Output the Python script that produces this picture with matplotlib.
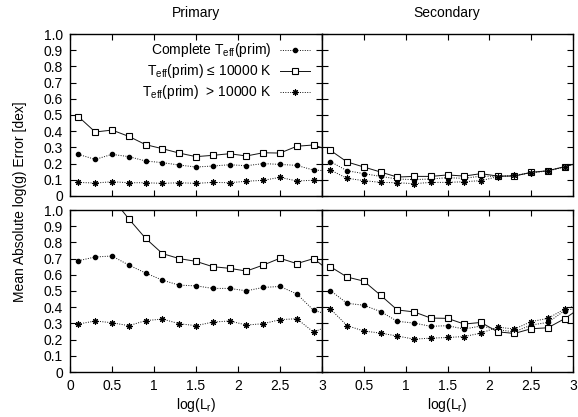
import numpy as np
import matplotlib
matplotlib.use("Agg")
import matplotlib.pyplot as plt

plt.rcParams["font.family"] = ["Liberation Sans", "DejaVu Sans"]
plt.rcParams["mathtext.fontset"] = "custom"
plt.rcParams["mathtext.rm"] = "Liberation Sans"
plt.rcParams["mathtext.it"] = "Liberation Sans:italic"
plt.rcParams["font.size"] = 10

# bin centres of log(L_r); last bin (3.1) lies past the axis and is clipped
logL = [0.1, 0.3, 0.5, 0.7, 0.9, 1.1, 1.3, 1.5, 1.7, 1.9, 2.1, 2.3, 2.5, 2.7, 2.9, 3.1]

# top row: primary mass-ratio sample, bottom row: second sample
prim_top_all  = [0.257, 0.226, 0.257, 0.243, 0.216, 0.206, 0.191, 0.179, 0.185, 0.193, 0.187, 0.200, 0.195, 0.189, 0.160, 0.155]
prim_top_cool = [0.490, 0.395, 0.407, 0.368, 0.317, 0.292, 0.265, 0.243, 0.251, 0.261, 0.247, 0.267, 0.265, 0.307, 0.315, 0.280]
prim_top_hot  = [0.084, 0.080, 0.088, 0.082, 0.082, 0.078, 0.082, 0.078, 0.084, 0.082, 0.091, 0.097, 0.115, 0.093, 0.097, 0.090]

sec_top_all   = [0.212, 0.156, 0.138, 0.121, 0.105, 0.101, 0.105, 0.113, 0.109, 0.123, 0.121, 0.125, 0.144, 0.156, 0.181, 0.210]
sec_top_cool  = [0.282, 0.210, 0.179, 0.148, 0.117, 0.121, 0.121, 0.130, 0.123, 0.138, 0.123, 0.123, 0.146, 0.156, 0.181, 0.210]
sec_top_hot   = [0.160, 0.109, 0.095, 0.084, 0.082, 0.076, 0.084, 0.084, 0.088, 0.095, 0.119, 0.128, 0.144, 0.154, 0.179, 0.210]

prim_bot_all  = [0.687, 0.710, 0.716, 0.660, 0.611, 0.567, 0.536, 0.532, 0.516, 0.516, 0.501, 0.522, 0.528, 0.482, 0.381, 0.350]
prim_bot_cool = [1.250, 1.150, 1.075, 0.945, 0.825, 0.731, 0.700, 0.683, 0.650, 0.640, 0.623, 0.660, 0.702, 0.669, 0.700, 0.620]
prim_bot_hot  = [0.296, 0.315, 0.304, 0.286, 0.317, 0.327, 0.298, 0.286, 0.308, 0.315, 0.290, 0.298, 0.323, 0.329, 0.246, 0.290]

sec_bot_all   = [0.503, 0.424, 0.412, 0.373, 0.313, 0.302, 0.282, 0.286, 0.265, 0.284, 0.261, 0.248, 0.290, 0.306, 0.379, 0.400]
sec_bot_cool  = [0.650, 0.586, 0.561, 0.474, 0.383, 0.371, 0.333, 0.331, 0.296, 0.306, 0.248, 0.238, 0.267, 0.273, 0.329, 0.400]
sec_bot_hot   = [0.389, 0.286, 0.253, 0.240, 0.222, 0.203, 0.209, 0.213, 0.219, 0.240, 0.277, 0.265, 0.311, 0.331, 0.389, 0.420]

labels = [r"Complete T$_{\rm eff}$(prim)",
          r"T$_{\rm eff}$(prim) ≤ 10000 K",
          r"T$_{\rm eff}$(prim)  > 10000 K"]

STYLES = [
    dict(ls=(0, (1, 1.5)), marker="o", ms=3.0, mfc="k", mec="k"),
    dict(ls="-", marker="s", ms=4.0, mfc="white", mec="k", mew=0.8),
    dict(ls=(0, (1, 1.5)), marker=(8, 2, 0), ms=4.5, mec="k", mew=0.8),
]

W, H = 578, 417
fig = plt.figure(figsize=(W / 100, H / 100), dpi=100)

def px_axes(x0, x1, ytop, ybot):
    return fig.add_axes([x0 / W, 1 - ybot / H, (x1 - x0) / W, (ybot - ytop) / H])

axes = {
    "tl": px_axes(70, 322, 34, 196),
    "tr": px_axes(322, 573, 34, 196),
    "bl": px_axes(70, 322, 210, 372),
    "br": px_axes(322, 573, 210, 372),
}

panel_data = {
    "tl": (prim_top_all, prim_top_cool, prim_top_hot),
    "tr": (sec_top_all, sec_top_cool, sec_top_hot),
    "bl": (prim_bot_all, prim_bot_cool, prim_bot_hot),
    "br": (sec_bot_all, sec_bot_cool, sec_bot_hot),
}

yt = np.arange(0, 1.01, 0.1)
ytl = ["0"] + [f"{v:.1f}" for v in yt[1:]]
xt = [0, 0.5, 1, 1.5, 2, 2.5, 3]
xtl = ["0", "0.5", "1", "1.5", "2", "2.5", "3"]

for key, ax in axes.items():
    for series, st in zip(panel_data[key], STYLES):
        ax.plot(logL, series, color="#111111", lw=0.7, **st)
    ax.set_xlim(0, 3)
    ax.set_ylim(0, 1)
    ax.set_yticks(yt)
    ax.set_xticks(xt)
    ax.tick_params(direction="in", top=True, right=True, length=4, width=0.8, pad=5, labelsize=10)
    for sp in ax.spines.values():
        sp.set_linewidth(1.0)
    if key[1] == "l":
        ax.set_yticklabels(ytl)
    else:
        ax.set_yticklabels([])
    if key[0] == "b":
        if key[1] == "l":
            ax.set_xticklabels(xtl)
        else:
            ax.set_xticklabels([""] + xtl[1:])
        ax.set_xlabel(r"log(L$_{\rm r}$)", fontsize=10, labelpad=2)
    else:
        ax.set_xticklabels([])

# key in the top-left panel, gnuplot style (text right, sample left->right)
ax = axes["tl"]
for yk, lab, st in zip([0.90, 0.772, 0.645], labels, STYLES):
    ax.text(2.40, yk, lab, ha="right", va="center", fontsize=10)
    ax.plot([2.50, 2.86], [yk, yk], color="#111111", lw=0.7, ls=st["ls"])
    ax.plot([2.68], [yk], color="#111111", lw=0, **{k: v for k, v in st.items() if k != "ls"})

fig.text(196 / W, 1 - 13 / H, "Primary", ha="center", va="center", fontsize=10)
fig.text(447 / W, 1 - 13 / H, "Secondary", ha="center", va="center", fontsize=10)
fig.text(20 / W, 1 - 202 / H, "Mean Absolute log(g) Error [dex]", rotation=90,
         ha="center", va="center", fontsize=10)

fig.savefig("out.png", dpi=100)
